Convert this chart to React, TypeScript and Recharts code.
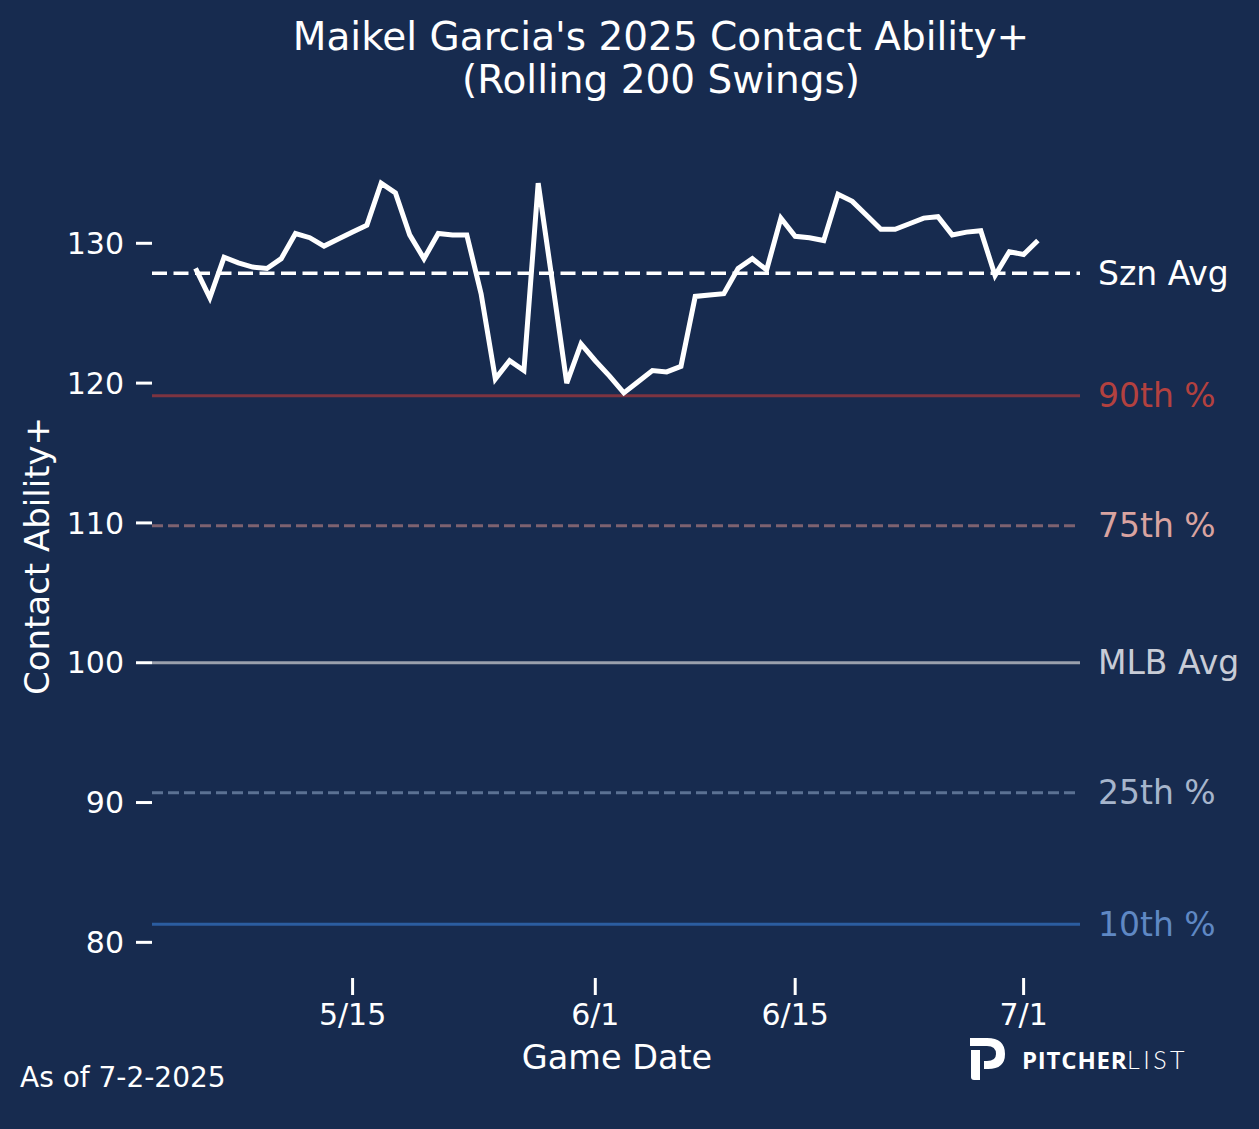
import React from 'react';
import { LineChart, Line, XAxis, YAxis, ReferenceLine } from 'recharts';

// rolling 200-swing Contact Ability+ by game date
const dates = [
  '5/4', '5/5', '5/6', '5/7', '5/8', '5/9', '5/10', '5/11', '5/12', '5/13',
  '5/14', '5/15', '5/16', '5/17', '5/18', '5/19', '5/20', '5/21', '5/22', '5/23',
  '5/24', '5/25', '5/26', '5/27', '5/28', '5/29', '5/30', '5/31', '6/1', '6/2',
  '6/3', '6/4', '6/5', '6/6', '6/7', '6/8', '6/9', '6/10', '6/11', '6/12',
  '6/13', '6/14', '6/15', '6/16', '6/17', '6/18', '6/19', '6/20', '6/21', '6/22',
  '6/23', '6/24', '6/25', '6/26', '6/27', '6/28', '6/29', '6/30', '7/1', '7/2',
];
const contactAbility = [
  128.2, 126.1, 129.0, 128.6, 128.3, 128.2, 128.9, 130.7, 130.4, 129.8,
  130.3, 130.8, 131.3, 134.3, 133.6, 130.6, 128.9, 130.7, 130.6, 130.6,
  126.4, 120.3, 121.6, 120.9, 134.3, 127.2, 120.0, 122.8, 121.6, 120.5,
  119.3, 120.1, 120.9, 120.8, 121.2, 126.2, 126.3, 126.4, 128.2, 128.9,
  128.1, 131.8, 130.5, 130.4, 130.2, 133.5, 133.0, 132.0, 131.0, 131.0,
  131.4, 131.8, 131.9, 130.6, 130.8, 130.9, 127.7, 129.4, 129.2, 130.2,
];
const xTickLabels = ['5/15', '6/1', '6/15', '7/1'];
const yTicks = [80, 90, 100, 110, 120, 130];
const refNames = ['Szn Avg', '90th %', '75th %', 'MLB Avg', '25th %', '10th %'];
const refValues = [127.85, 119.1, 109.8, 100, 90.7, 81.3];

const refStyles = [
  { stroke: '#ffffff', width: 3.5, dash: '15 6.5', label: '#ffffff' },
  { stroke: '#7d3441', width: 3, dash: undefined, label: '#b3413f' },
  { stroke: '#7d6270', width: 3, dash: '11 5', label: '#d9a3a0' },
  { stroke: '#9aa0ad', width: 3, dash: undefined, label: '#c8ccd6' },
  { stroke: '#5b7193', width: 3, dash: '11 5', label: '#a6b5cc' },
  { stroke: '#2b5da0', width: 3, dash: undefined, label: '#5f88c4' },
];

const monthStart: Record<number, number> = { 5: 0, 6: 31, 7: 61 };
const dayOf = (md: string) => {
  const [m, d] = md.split('/').map(Number);
  return monthStart[m] + d - 1;
};

const data = dates.map((d, i) => ({ day: dayOf(d), value: contactAbility[i] }));
const xTicks = xTickLabels.map(dayOf);
const tickName: Record<number, string> = {};
xTickLabels.forEach((t) => { tickName[dayOf(t)] = t; });

const BG = '#172b4f';
const FONT = '"DejaVu Sans", sans-serif';

export default function App() {
  return (
    <div style={{ position: 'absolute', left: 0, top: 0, width: 1259, height: 1129, background: BG, fontFamily: FONT }}>
      <LineChart
        width={1259}
        height={1129}
        data={data}
        margin={{ top: 152, right: 179, bottom: 91, left: 52 }}
        style={{ position: 'absolute', left: 0, top: 0 }}
      >
        <XAxis
          dataKey="day"
          type="number"
          domain={[-0.05, 64.95]}
          ticks={xTicks}
          tickFormatter={(v: number) => tickName[v] ?? ''}
          height={60}
          axisLine={false}
          tickSize={17}
          tickMargin={9}
          tickLine={{ stroke: '#ffffff', strokeWidth: 3 }}
          tick={{ fill: '#ffffff', fontSize: 30, fontFamily: FONT }}
          allowDataOverflow
        />
        <YAxis
          type="number"
          domain={[77.45, 136.53]}
          ticks={yTicks}
          width={100}
          axisLine={false}
          tickSize={16}
          tickMargin={12}
          tickLine={{ stroke: '#ffffff', strokeWidth: 3 }}
          tick={{ fill: '#ffffff', fontSize: 30, fontFamily: FONT }}
          allowDataOverflow
        />
        {refValues.map((v, i) => (
          <ReferenceLine
            key={refNames[i]}
            y={v}
            stroke={refStyles[i].stroke}
            strokeWidth={refStyles[i].width}
            strokeDasharray={refStyles[i].dash}
            label={{
              value: refNames[i],
              position: 'right',
              offset: 18,
              fill: refStyles[i].label,
              fontSize: 33,
              fontFamily: FONT,
            }}
          />
        ))}
        <Line
          type="linear"
          dataKey="value"
          stroke="#ffffff"
          strokeWidth={5}
          dot={false}
          activeDot={false}
          isAnimationActive={false}
        />
      </LineChart>
      <svg width={1259} height={1129} style={{ position: 'absolute', left: 0, top: 0, pointerEvents: 'none' }}>
        <text x={661} y={50} textAnchor="middle" fill="#ffffff" fontSize={39} fontFamily={FONT}>
          Maikel Garcia's 2025 Contact Ability+
        </text>
        <text x={661} y={93} textAnchor="middle" fill="#ffffff" fontSize={39} fontFamily={FONT}>
          (Rolling 200 Swings)
        </text>
        <text transform="translate(49,556) rotate(-90)" textAnchor="middle" fill="#ffffff" fontSize={34} fontFamily={FONT}>
          Contact Ability+
        </text>
        <text x={617} y={1069} textAnchor="middle" fill="#ffffff" fontSize={33.5} fontFamily={FONT}>
          Game Date
        </text>
        <text x={20} y={1087} fill="#ffffff" fontSize={28} fontFamily={FONT}>
          As of 7-2-2025
        </text>
        <path
          d="M970,1038 L987,1038 Q1005,1038 1005,1054 Q1005,1069 988,1069 L984,1069 L984,1061 L987,1061 Q996,1061 996,1054 Q996,1046 987,1046 L970,1046 Z"
          fill="#ffffff"
        />
        <path d="M971,1050 L980,1050 L980,1080 L974,1080 Q971,1080 971,1077 Z" fill="#ffffff" />
        <text x={1022} y={1069} fill="#ffffff" fontSize={24} fontWeight={700} letterSpacing={0.8} fontFamily='"Open Sans", sans-serif'>
          PITCHER
        </text>
        <text x={1127} y={1069} fill="#ffffff" fontSize={25} fontWeight={300} letterSpacing={3.5} fontFamily="Lato, sans-serif">
          LIST
        </text>
      </svg>
    </div>
  );
}
